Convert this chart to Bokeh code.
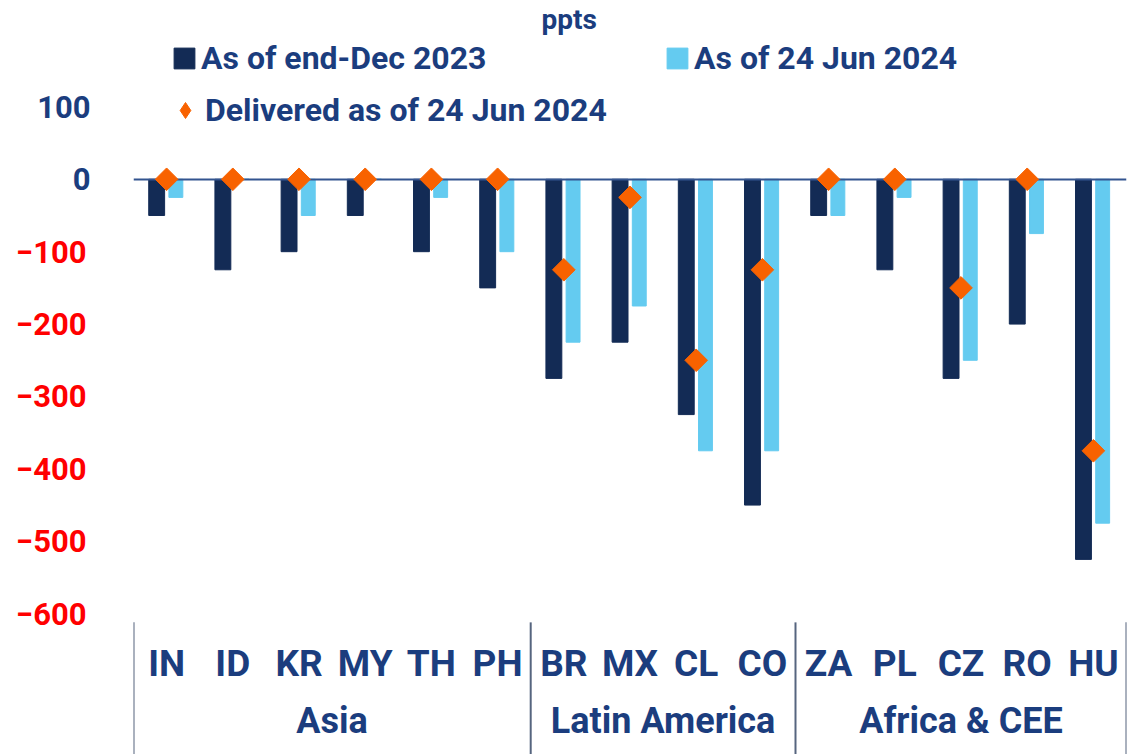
import numpy as np
from bokeh.plotting import figure
from bokeh.models import (FactorRange, ColumnDataSource, LinearAxis, CategoricalAxis,
                          FixedTicker, Legend, LegendItem)
from bokeh.transform import dodge
from bokeh.embed import file_html
from bokeh.resources import INLINE

# ---------------- data ----------------
countries = ["IN", "ID", "KR", "MY", "TH", "PH", "BR", "MX", "CL", "CO",
             "ZA", "PL", "CZ", "RO", "HU"]
regions = ["Asia"] * 6 + ["Latin America"] * 4 + ["Africa & CEE"] * 5
dec2023 = [-50, -125, -100, -50, -100, -150, -275, -225, -325, -450,
           -50, -125, -275, -200, -525]
jun2024 = [-25, 0, -50, 0, -25, -100, -225, -175, -375, -375,
           -50, -25, -250, -75, -475]
delivered = [0, 0, 0, 0, 0, 0, -125, -25, -250, -125,
             0, 0, -150, 0, -375]
y_ticks = [100, 0, -100, -200, -300, -400, -500, -600]
series_names = ["As of end-Dec 2023", "As of 24 Jun 2024", "Delivered as of 24 Jun 2024"]

# ---------------- style ----------------
DARK = "#132B55"
LIGHT = "#64CBF0"
ORANGE = "#F86200"
NAVY_TXT = "#1B3D7E"
RED = "#FF0000"
FONT = "Roboto"

src = ColumnDataSource(dict(x=countries, dec=dec2023, jun=jun2024, dlv=delivered))
n = len(countries)

p = figure(
    x_range=FactorRange(*countries, factor_padding=0, range_padding=0),
    y_range=(-794.5, 198.6),
    width=1133, height=754,
    output_backend="svg", toolbar_location=None,
    title="ppts",
    min_border_left=133, min_border_right=7, min_border_top=0, min_border_bottom=0,
    y_axis_location=None,
)
p.outline_line_color = None
p.xgrid.visible = False
p.ygrid.visible = False
# nested (region, country) range used only for the region labels
p.extra_x_ranges = {"grp": FactorRange(*zip(regions, countries), factor_padding=0,
                                       group_padding=0, range_padding=0)}

p.title.text_font = FONT
p.title.text_font_size = "28px"
p.title.text_font_style = "bold"
p.title.text_color = NAVY_TXT
p.title.align = "left"
p.title.offset = 408
p.title.standoff = 0

# bars
r1 = p.vbar(x=dodge("x", -0.15, range=p.x_range), top="dec", width=0.24,
            source=src, fill_color=DARK, line_color=DARK)
r2 = p.vbar(x=dodge("x", 0.14, range=p.x_range), top="jun", width=0.21,
            source=src, fill_color=LIGHT, line_color=LIGHT)
# zero line
p.hspan(y=[0], line_color="#33548F", line_width=2)
# delivered diamonds
r3 = p.scatter(x="x", y="dlv", marker="square", angle=np.pi / 4, size=16,
               source=src, fill_color=ORANGE, line_color=ORANGE)
# legend key for the diamonds (a single undrawn NaN point)
r3_key = p.scatter(x=[countries[0]], y=[float("nan")], marker="diamond",
                   fill_color=ORANGE, line_color=ORANGE)

# group boundaries derived from the region list
bounds = [0]
for i in range(1, n):
    if regions[i] != regions[i - 1]:
        bounds.append(i)
bounds.append(n)
p.segment(x0=bounds, x1=bounds, y0=[-612] * len(bounds), y1=[-800] * len(bounds),
          line_color="#56657F", line_width=2)

# country axis at y = -600
xa = p.xaxis[0]
xa.fixed_location = -600
xa.axis_line_color = None
xa.major_tick_line_color = None
xa.minor_tick_line_color = None
xa.major_label_text_font = FONT
xa.major_label_text_font_size = "37px"
xa.major_label_text_font_style = "bold"
xa.major_label_text_color = NAVY_TXT
xa.major_label_standoff = 22

# region axis (only the group level is shown)
ga = CategoricalAxis(x_range_name="grp", fixed_location=-600)
ga.axis_line_color = None
ga.major_tick_line_color = None
ga.minor_tick_line_color = None
ga.major_label_text_font_size = "1px"
ga.major_label_text_alpha = 0
ga.major_label_standoff = 80
ga.group_text_font = FONT
ga.group_text_font_size = "36px"
ga.group_text_font_style = "bold"
ga.group_text_color = NAVY_TXT
try:
    ga.separator_line_color = None
except Exception:
    pass
p.add_layout(ga, "below")

# y axes: positive/zero labels navy (inner), negative labels red (outer, shifted in)
def make_yaxis(ticks, color, standoff):
    ax = LinearAxis(ticker=FixedTicker(ticks=ticks))
    ax.axis_line_color = None
    ax.major_tick_line_color = None
    ax.minor_tick_line_color = None
    ax.major_tick_out = 0
    ax.major_tick_in = 0
    ax.major_label_standoff = standoff
    ax.major_label_text_font = FONT
    ax.major_label_text_font_size = "31px"
    ax.major_label_text_font_style = "bold"
    ax.major_label_text_color = color
    return ax

p.add_layout(make_yaxis([t for t in y_ticks if t >= 0], NAVY_TXT, 43), "left")
p.add_layout(make_yaxis([t for t in y_ticks if t < 0], RED, -52), "left")

common = dict(padding=0, margin=0, border_line_color=None, background_fill_alpha=0,
              label_text_font=FONT, label_text_font_size="32px",
              label_text_font_style="bold", label_text_color=NAVY_TXT)
legend1 = Legend(
    items=[LegendItem(label=series_names[0], renderers=[r1]),
           LegendItem(label=series_names[1], renderers=[r2])],
    location=(38, 677), orientation="horizontal",
    glyph_width=26, glyph_height=26, label_height=26, label_width=463,
    label_standoff=4, spacing=0, **common)
legend2 = Legend(
    items=[LegendItem(label=series_names[2], renderers=[r3_key])],
    location=(32, 624), orientation="horizontal",
    glyph_width=40, glyph_height=40, label_height=40,
    label_standoff=0, spacing=0, **common)
p.add_layout(legend1)
p.add_layout(legend2)

open("out.html", "w").write(file_html(p, INLINE))
